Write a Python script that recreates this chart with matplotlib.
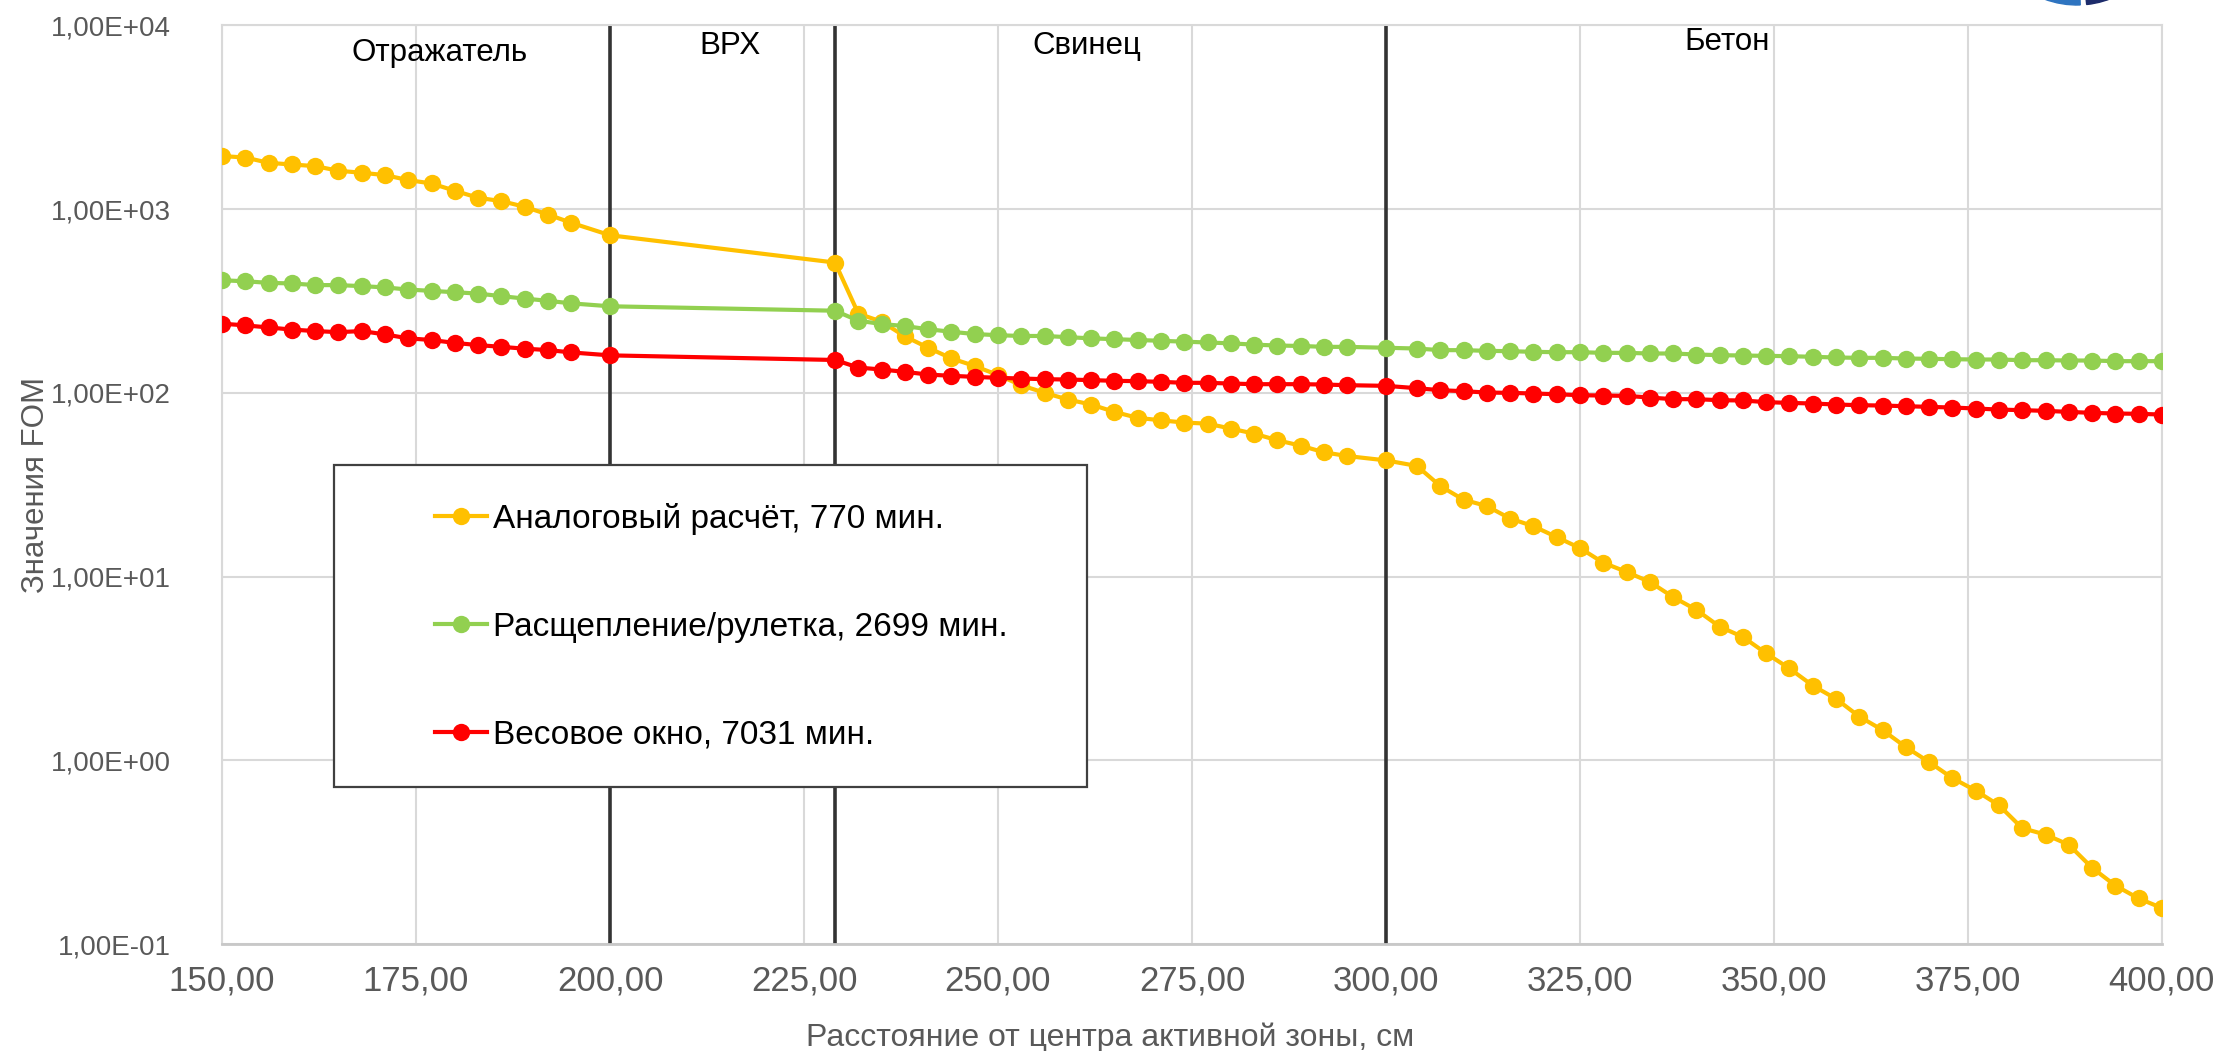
"""
FOM comparison: analog vs splitting/roulette vs weight window.
Outputs: out.png
"""
import matplotlib
matplotlib.use('Agg')
import matplotlib.pyplot as plt
from matplotlib.patches import Rectangle, Wedge
from matplotlib.ticker import FixedLocator, FuncFormatter

plt.rcParams['font.family'] = ['Liberation Sans', 'DejaVu Sans']

# distance from core centre, cm
dist = [150, 153, 156, 159, 162, 165, 168, 171, 174, 177, 180, 183, 186, 189, 192, 195, 200,
        229, 232, 235, 238, 241, 244, 247, 250, 253, 256, 259, 262, 265, 268, 271, 274, 277,
        280, 283, 286, 289, 292, 295, 300,
        304, 307, 310, 313, 316, 319, 322, 325, 328, 331, 334, 337, 340, 343, 346, 349, 352,
        355, 358, 361, 364, 367, 370, 373, 376, 379, 382, 385, 388, 391, 394, 397, 400]

analog = [1945, 1910, 1787, 1750, 1715, 1618, 1578, 1532, 1439, 1380, 1259, 1153, 1106, 1030, 935, 843, 721,
          512, 270, 244, 203, 176, 154, 140, 125, 110, 100, 92.0, 86.4, 78.8, 73.1, 70.9, 68.9, 68.0,
          63.9, 60.0, 55.2, 51.6, 47.5, 45.3, 42.9,
          40.0, 31.1, 26.2, 24.2, 20.7, 18.8, 16.4, 14.3, 11.9, 10.6, 9.35, 7.74, 6.59, 5.34, 4.69, 3.82, 3.16,
          2.55, 2.16, 1.73, 1.46, 1.18, 0.978, 0.80, 0.684, 0.569, 0.427, 0.394, 0.347, 0.260, 0.208, 0.177, 0.157]

split = [410, 405, 397, 394, 386, 386, 381, 375, 365, 359, 353, 347, 336, 326, 317, 307, 296,
         280, 247, 237, 231, 222, 215, 209, 206, 204, 204, 201, 198, 196, 194, 192, 190, 188,
         186, 183, 181, 180, 178, 178, 176,
         174.3, 170.8, 170.8, 169.3, 168.6, 167.2, 166.5, 166.5, 165.1, 165.1, 163.8, 163.8, 161.7, 160.4, 159.7,
         159.0, 158.4, 157.1, 155.8, 155.1, 155.1, 153.8, 153.2, 152.5, 151.9, 151.9, 150.6, 150.6, 150.0, 150.0,
         148.8, 148.8, 148.8]

window = [238, 233, 227, 221, 217, 214, 217, 208, 198, 194, 187, 182, 178, 174, 171, 166, 160,
          151, 137.3, 134.0, 130.1, 125.8, 123.8, 122.2, 120.7, 119.7, 118.7, 118.2, 117.3, 116.3, 115.8, 114.8,
          113.4, 113.4, 112.4, 111.5, 111.5, 111.5, 111.0, 110.1, 109.2,
          106, 103.4, 102.1, 100.4, 100.0, 99.2, 98.3, 97.1, 96.7, 96.3, 94.3, 92.4, 92.4, 91.2, 90.9, 89.0, 88.2,
          87.5, 86.4, 85.7, 85.3, 84.6, 83.9, 83.2, 82.2, 81.1, 80.5, 79.8, 78.8, 77.8, 77.2, 76.9, 76.2]

labels = ['Аналоговый расчёт, 770 мин.', 'Расщепление/рулетка, 2699 мин.', 'Весовое окно, 7031 мин.']
colors = ['#FFC000', '#92D050', '#FF0000']

boundaries = [200, 229, 300]
zones = ['Отражатель', 'ВРХ', 'Свинец', 'Бетон']
zone_x = [178, 215.5, 261.5, 344]
zone_y = [7100, 7700, 7700, 8100]

x_ticks = [150, 175, 200, 225, 250, 275, 300, 325, 350, 375, 400]
y_ticks = [0.1, 1, 10, 100, 1000, 10000]

fig = plt.figure(figsize=(22.16, 10.51), dpi=100)
ax = fig.add_axes([0.1002, 0.1018, 0.8754, 0.8740])

for vals, lab, col in zip([analog, split, window], labels, colors):
    ax.plot(dist, vals, color=col, lw=3.0, marker='o', ms=12.5, mew=0, label=lab, zorder=3)

for b in boundaries:
    ax.axvline(b, color='#333333', lw=2.6, zorder=2.5)

for name, zx, zy in zip(zones, zone_x, zone_y):
    ax.text(zx, zy, name, ha='center', va='center', fontsize=22.5, color='black')

ax.set_yscale('log')
ax.set_xlim(150, 400)
ax.set_ylim(0.1, 10000)
ax.xaxis.set_major_locator(FixedLocator(x_ticks))
ax.yaxis.set_major_locator(FixedLocator(y_ticks))
ax.yaxis.set_minor_locator(FixedLocator([]))
ax.xaxis.set_major_formatter(FuncFormatter(lambda v, p: f'{v:.2f}'.replace('.', ',')))
ax.yaxis.set_major_formatter(FuncFormatter(lambda v, p: f'{v:.2E}'.replace('.', ',')))
ax.tick_params(axis='both', length=0, colors='#595959')
ax.tick_params(axis='x', labelsize=25, pad=15)
ax.tick_params(axis='y', labelsize=20, pad=37)
ax.grid(True, color='#d9d9d9', lw=1.5, zorder=0)
ax.set_axisbelow(True)
for sp in ax.spines.values():
    sp.set_color('#d9d9d9')
    sp.set_linewidth(1.5)
ax.spines['bottom'].set_color('#c8c8c8')
ax.spines['bottom'].set_linewidth(2)

ax.set_xlabel('Расстояние от центра активной зоны, см', fontsize=23, color='#595959')
ax.set_ylabel('Значения FOM', fontsize=22.5, color='#595959')
ax.xaxis.label.set_va('center')
ax.yaxis.label.set_va('center')
ax.yaxis.label.set_ha('center')
ax.xaxis.set_label_coords(0.458, -0.102)
ax.yaxis.set_label_coords(-0.096, 0.5)

# legend box drawn by hand, legend itself sits inside without a frame
ax.add_patch(Rectangle((0.0575, 0.1709), 0.3884, 0.3505, transform=ax.transAxes,
                       facecolor='white', edgecolor='#404040', lw=1.6, zorder=4))
leg = ax.legend(loc='center left', bbox_to_anchor=(0.1098, 0.3454), frameon=False,
                fontsize=24, handlelength=1.55, handletextpad=0.2, labelspacing=2.3,
                borderpad=0, borderaxespad=0)
leg.set_zorder(5)

# logo fragment at the top edge
fig.add_artist(Wedge((20.77, 11.385), 0.925, 180, 272, color='#2E74C0', transform=fig.dpi_scale_trans))
fig.add_artist(Wedge((20.77, 11.385), 0.925, 276, 360, color='#1D2C6B', transform=fig.dpi_scale_trans))

fig.savefig('out.png', dpi=100)
plt.close(fig)
